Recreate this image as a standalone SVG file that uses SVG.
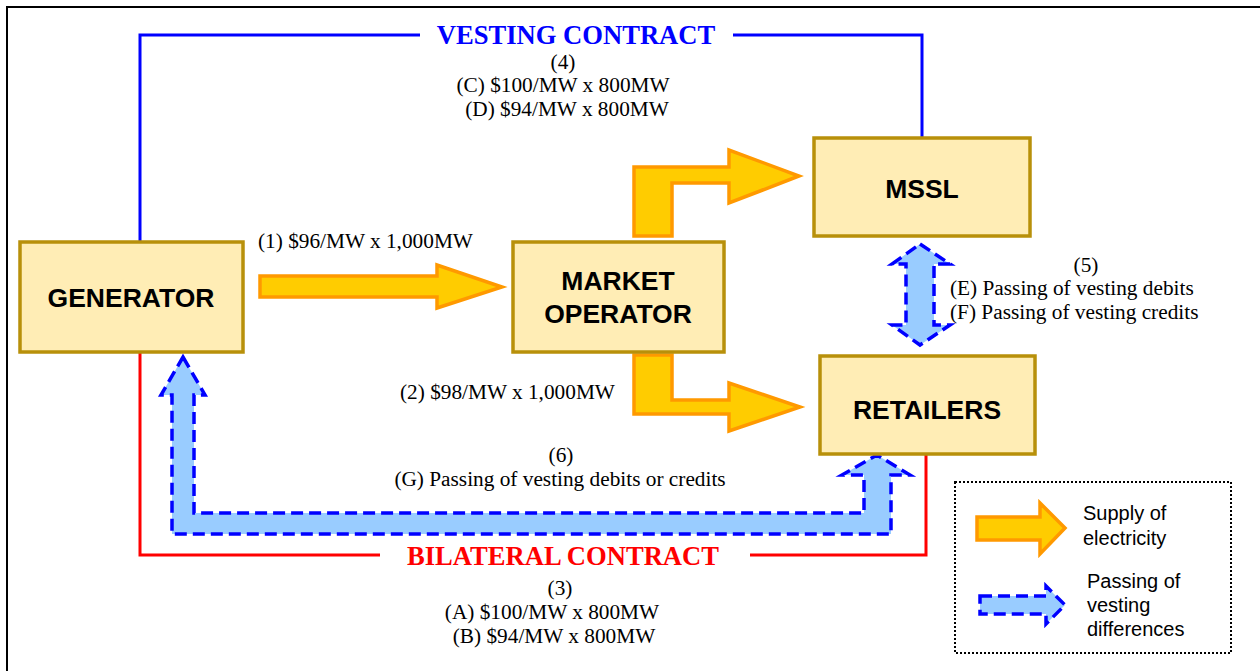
<svg xmlns="http://www.w3.org/2000/svg" width="1260" height="671" viewBox="0 0 1260 671">
<style>
.box{fill:#FFEDB5;stroke:#B8900A;stroke-width:3.5}
.lbl{font-family:"Liberation Sans",Arial,sans-serif;font-weight:bold;font-size:26.5px;fill:#000;text-anchor:middle}
.t{font-family:"Liberation Serif","Times New Roman",serif;font-size:21.3px;fill:#000}
.c{text-anchor:middle}
.title{font-family:"Liberation Serif","Times New Roman",serif;font-weight:bold;font-size:26.6px;text-anchor:middle}
.org{fill:#FFCC00;stroke:#FF9900;stroke-width:3.5;stroke-linejoin:miter}
.blu{fill:#99CCFF;stroke:#0000FF;stroke-width:3.5;stroke-dasharray:12 6}
.leg{font-family:"Liberation Sans",Arial,sans-serif;font-size:20px;fill:#000}
</style>
<rect width="1260" height="671" fill="#fff"/>
<path d="M7,671 V7 H1260" fill="none" stroke="#000" stroke-width="2"/>
<g id="connectors">
<path d="M140,242 V35 H420 M733,35 H922 V138" fill="none" stroke="#0000FF" stroke-width="3"/>
<path d="M140,352 V555 H380 M750,555 H926 V454" fill="none" stroke="#FF0000" stroke-width="3"/>
<polygon class="org" points="260,276 437,276 437,265 502,287 437,308 437,297 260,297"/>
<polygon class="org" points="634,236 634,167 729,167 729,150 799,176 729,203 729,183 672,183 672,236"/>
<polygon class="org" points="634,355 672,355 672,400 729,400 729,383 800,407 729,431 729,414 634,414"/>
<polygon class="blu" points="920,244 950,264 934,264 934,325 950,325 920,345 892,325 906,325 906,264 892,264"/>
<polygon class="blu" points="183,357 205,395 194,395 194,513 864,513 864,475 842,475 877,455 910,475 891,475 891,534 172,534 172,395 161,395"/>
</g>
<g id="labels">
<text class="title" x="576" y="44" fill="#0000FF">VESTING CONTRACT</text>
<text class="t c" x="563" y="69">(4)</text>
<text class="t c" x="563" y="92">(C) $100/MW x 800MW</text>
<text class="t c" x="567" y="116">(D) $94/MW x 800MW</text>
<text class="t" x="258" y="248">(1) $96/MW x 1,000MW</text>
<text class="t" x="400" y="399">(2) $98/MW x 1,000MW</text>
<text class="t c" x="1086" y="272">(5)</text>
<text class="t" x="950" y="295">(E) Passing of vesting debits</text>
<text class="t" x="950" y="319">(F) Passing of vesting credits</text>
<text class="t c" x="561" y="462">(6)</text>
<text class="t c" x="560" y="486">(G) Passing of vesting debits or credits</text>
<text class="title" x="563" y="565" fill="#FF0000">BILATERAL CONTRACT</text>
<text class="t c" x="560" y="595">(3)</text>
<text class="t c" x="552" y="619">(A) $100/MW x 800MW</text>
<text class="t c" x="554" y="643">(B) $94/MW x 800MW</text>
</g>
<g id="generator">
<rect class="box" x="20" y="242" width="223" height="110"/>
<text class="lbl" x="131" y="307">GENERATOR</text>
</g>
<g id="market-operator">
<rect class="box" x="513" y="242" width="211" height="110"/>
<text class="lbl" x="618" y="290">MARKET</text>
<text class="lbl" x="618" y="323">OPERATOR</text>
</g>
<g id="mssl">
<rect class="box" x="814" y="138" width="216" height="98"/>
<text class="lbl" x="922" y="198">MSSL</text>
</g>
<g id="retailers">
<rect class="box" x="820" y="356" width="215" height="98"/>
<text class="lbl" x="927" y="419">RETAILERS</text>
</g>
<g id="legend">
<rect x="955" y="482" width="276" height="171" fill="none" stroke="#000" stroke-width="2" stroke-dasharray="2 2"/>
<polygon class="org" points="977,517 1040,517 1040,503 1065,528 1040,554 1040,540 977,540"/>
<polygon class="blu" points="980,596 1046,596 1046,586 1065,605 1046,624 1046,614 980,614"/>
<text class="leg" x="1083" y="520">Supply of</text>
<text class="leg" x="1083" y="545">electricity</text>
<text class="leg" x="1087" y="588">Passing of</text>
<text class="leg" x="1087" y="612">vesting</text>
<text class="leg" x="1087" y="636">differences</text>
</g>
</svg>
